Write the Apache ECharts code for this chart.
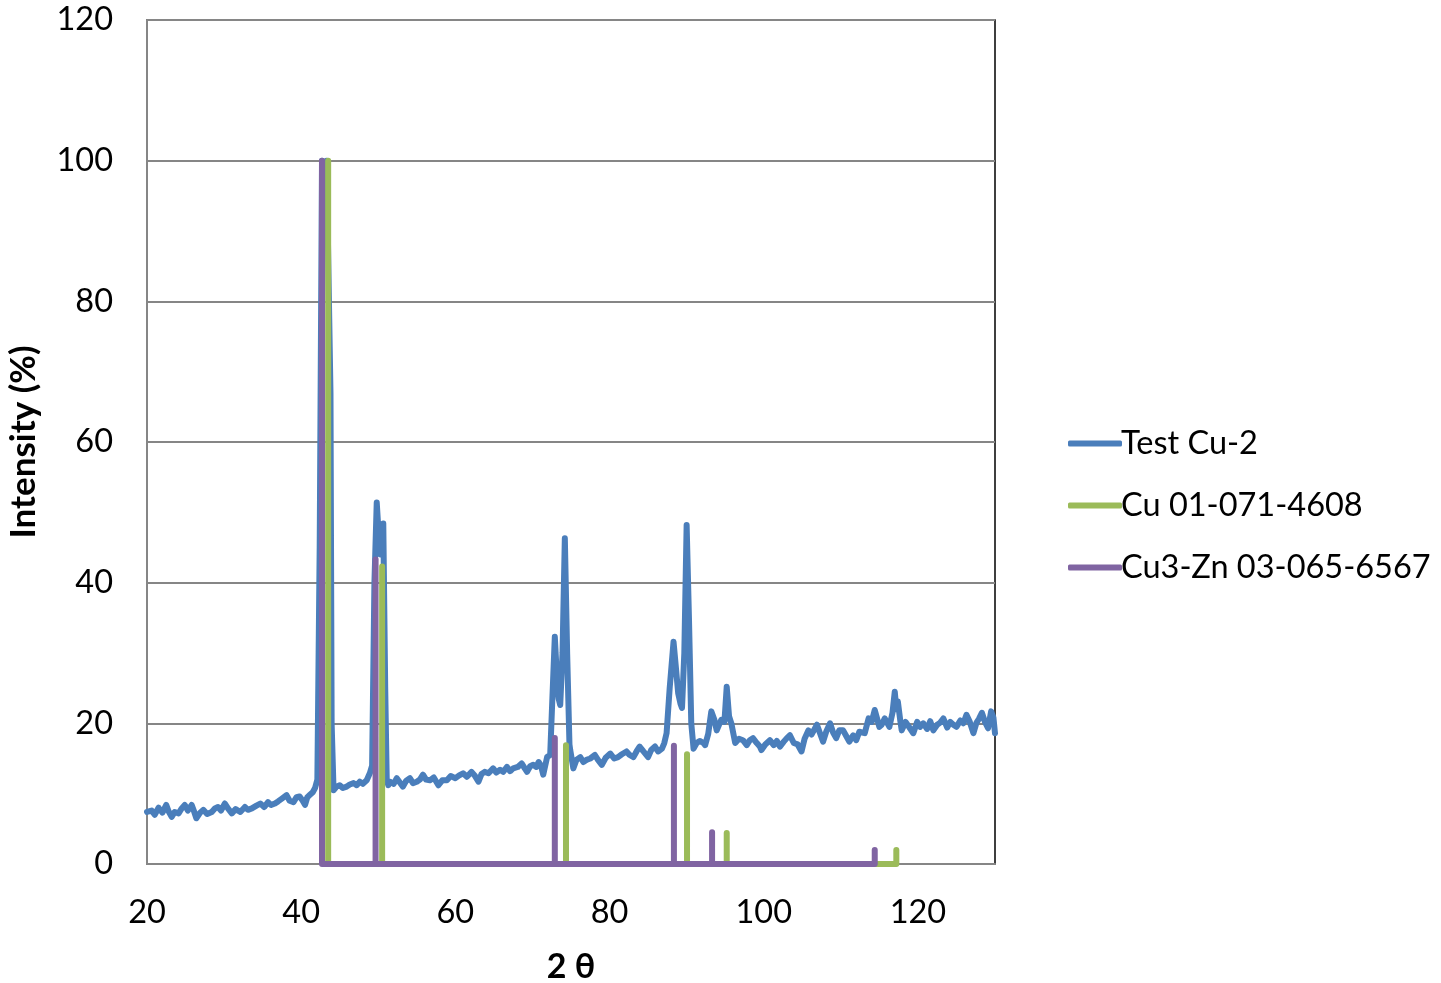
<!DOCTYPE html>
<html>
<head>
<meta charset="utf-8">
<script src="https://cdn.jsdelivr.net/npm/echarts@6/dist/echarts.min.js"></script>
<style>
html,body{margin:0;padding:0;background:#fff;}
#chart{width:1441px;height:983px;}
</style>
</head>
<body>
<div id="chart"></div>
<script>
// ---- data ----
const seriesNames = ['Test Cu-2', 'Cu 01-071-4608', 'Cu3-Zn 03-065-6567'];
const xTicks = [20, 40, 60, 80, 100, 120];
const yTicks = [0, 20, 40, 60, 80, 100, 120];

const testTheta = [20.0,20.6,21.0,21.5,22.0,22.5,22.8,23.2,23.6,24.1,24.5,24.9,25.3,25.8,26.1,26.4,26.9,27.3,27.8,28.4,28.8,29.2,29.6,30.1,30.5,31.0,31.5,32.1,32.7,33.1,33.6,34.2,34.7,35.2,35.7,36.1,36.6,37.0,37.5,38.1,38.5,39.0,39.4,39.8,40.2,40.5,40.8,41.1,41.5,41.8,42.1,42.4,42.7,43.0,43.3,43.6,43.8,43.95,44.2,44.6,45.0,45.4,45.9,46.3,46.8,47.2,47.6,48.0,48.5,48.9,49.2,49.5,49.8,50.1,50.3,50.65,50.9,51.1,51.3,51.5,52.0,52.4,52.8,53.2,53.6,54.1,54.5,55.0,55.4,55.8,56.2,56.7,57.2,57.8,58.3,58.9,59.4,60.0,60.5,61.0,61.5,62.1,62.5,63.0,63.4,63.8,64.3,64.9,65.3,65.8,66.2,66.7,67.1,67.5,68.1,68.6,69.0,69.3,69.7,70.1,70.5,70.8,71.1,71.4,71.9,72.3,72.6,72.9,73.2,73.4,73.6,73.9,74.2,74.5,74.8,74.9,75.3,75.7,76.2,76.6,77.0,77.5,78.1,78.5,79.0,79.5,80.1,80.6,81.1,81.6,82.2,82.6,83.1,83.5,83.9,84.4,85.0,85.4,85.9,86.3,86.8,87.1,87.4,87.8,88.3,88.6,88.9,89.2,89.4,89.7,90.0,90.3,90.6,90.9,91.3,91.7,92.2,92.4,92.8,93.2,93.6,93.9,94.2,94.5,94.9,95.2,95.5,95.8,96.3,96.8,97.3,97.8,98.2,98.6,99.1,99.5,99.7,100.2,100.8,101.3,101.7,102.1,102.6,103.0,103.4,103.9,104.4,104.9,105.3,105.8,106.2,106.9,107.3,107.7,108.1,108.6,109.0,109.4,109.8,110.3,110.7,111.1,111.6,112.0,112.4,113.1,113.6,114.0,114.4,115.0,115.3,115.7,116.3,116.7,117.0,117.2,117.4,117.7,117.9,118.4,118.9,119.4,119.9,120.3,120.7,121.2,121.6,122.0,122.5,122.9,123.3,123.8,124.2,124.6,125.0,125.5,125.9,126.3,126.7,127.2,127.6,127.9,128.3,128.7,129.1,129.5,129.8,130.0];
const testIntensity = [7.4,7.6,7.0,8.0,7.3,8.4,7.5,6.7,7.4,7.2,7.9,8.4,7.6,8.4,7.5,6.5,7.3,7.7,7.1,7.4,7.9,8.1,7.6,8.6,7.9,7.2,7.8,7.4,8.1,7.7,7.9,8.3,8.6,8.1,8.8,8.4,8.6,8.9,9.3,9.8,9.0,8.8,9.5,9.6,9.0,8.4,9.5,9.8,10.2,10.8,12,45,100,96,100,80,67,20,10.5,11.0,11.2,10.8,11.0,11.3,11.5,11.2,11.7,11.4,11.9,12.9,14,40,51.4,46,44,48.4,25,12,11.2,11.7,11.4,12.2,11.6,11.0,11.8,12.2,11.5,11.7,12.0,12.7,12.0,11.9,12.3,11.2,11.9,11.9,12.5,12.2,12.6,12.9,12.4,13.1,12.6,11.7,12.8,13.1,12.9,13.6,13.0,13.4,13.1,13.8,13.2,13.6,13.8,14.3,13.6,13.1,13.9,14.1,13.8,14.5,14.0,12.7,15.2,15.5,24,32.3,26,23.5,22.6,30,46.3,30,17,16.2,13.6,14.8,15.2,14.5,14.8,15.0,15.5,14.8,14.1,15.1,15.7,15.0,15.2,15.6,16.0,15.5,15.2,16.0,16.7,16.0,15.2,16.2,16.7,16.0,16.4,17.2,18.6,25,31.6,28,24.3,22.8,22.2,30,48.2,35,20,16.4,17.2,17.5,17.2,16.9,18.5,21.7,20.5,19.0,19.8,20.5,20.2,25.2,21,20,17.2,17.8,17.6,16.9,17.6,17.9,17.2,16.7,16.2,17.0,17.6,16.9,17.5,16.7,17.4,17.9,18.3,17.2,17.0,16.0,17.8,19.0,18.4,19.8,18.6,17.4,18.8,20.0,18.7,17.9,19.0,19.0,18.2,17.4,18.3,17.6,18.8,18.6,20.7,20.2,21.9,19.5,19.8,20.7,19.5,21.5,24.5,22,23.1,20.5,19.0,20.2,19.4,18.6,20.2,19.5,20.0,19.2,20.3,19.0,19.8,20.1,20.7,19.4,20.2,19.8,19.5,20.4,20.0,21.2,20.3,18.6,20.1,20.6,21.5,20.2,19.3,21.7,20.8,18.6];

const cuPeakTheta = [43.5, 50.5, 74.35, 90.05, 95.2, 117.2];
const cuPeakHeight = [100, 42.3, 16.9, 15.6, 4.4, 2.0];
const cu3znPeakTheta = [42.7, 49.65, 72.9, 88.35, 93.3, 114.4];
const cu3znPeakHeight = [100, 43.3, 17.9, 16.8, 4.5, 2.0];

// ---- build series data ----
const testData = testTheta.map((t, i) => [t, testIntensity[i]]);
function sticks(theta, height) {
  const out = [];
  theta.forEach((t, i) => { out.push([t, 0], [t, height[i]], [t, 0]); });
  return out;
}
const colors = ['#4A7EBB', '#9BBB59', '#8064A2'];
const FONT = 'Lato, "Open Sans", sans-serif';

const chart = echarts.init(document.getElementById('chart'));
chart.setOption({
  animation: false,
  backgroundColor: '#fff',
  grid: { left: 147, top: 20, width: 848, height: 844, outerBoundsMode: 'none', containLabel: false,
          show: true, borderColor: '#000', borderWidth: 1.5, backgroundColor: 'transparent' },
  legend: {
    orient: 'vertical', left: 1063, top: 422, itemGap: 29,
    icon: 'roundRect', itemWidth: 54, itemHeight: 6,
    textStyle: { fontFamily: FONT, fontSize: 32.5, color: '#000', padding: [0, 0, 0, -6] },
    data: seriesNames
  },
  xAxis: {
    type: 'value', min: 20, max: 130, interval: 20,
    name: '2 θ', nameLocation: 'middle', nameGap: 86,
    nameTextStyle: { fontFamily: FONT, fontSize: 34, fontWeight: 'bold', color: '#000' },
    axisLine: { show: true, lineStyle: { color: '#868686', width: 2 } },
    axisTick: { show: false },
    splitLine: { show: false },
    axisLabel: { fontFamily: FONT, fontSize: 32.5, color: '#000', margin: 32, showMaxLabel: false, showMinLabel: true }
  },
  yAxis: {
    type: 'value', min: 0, max: 120, interval: 20,
    name: 'Intensity (%)', nameLocation: 'middle', nameGap: 106, nameRotate: 90,
    nameTextStyle: { fontFamily: FONT, fontSize: 35, fontWeight: 'bold', color: '#000' },
    axisLine: { show: true, lineStyle: { color: '#868686', width: 2 } },
    axisTick: { show: false },
    splitLine: { show: true, lineStyle: { color: '#868686', width: 2 } },
    axisLabel: { fontFamily: FONT, fontSize: 32.5, color: '#000', margin: 34 }
  },
  series: [
    { name: seriesNames[0], type: 'line', data: testData, showSymbol: false, symbol: 'none',
      lineStyle: { color: colors[0], width: 6, cap: 'round', join: 'round' }, itemStyle: { color: colors[0] }, z: 2 },
    { name: seriesNames[1], type: 'line', data: sticks(cuPeakTheta, cuPeakHeight), showSymbol: false, symbol: 'none',
      lineStyle: { color: colors[1], width: 6, cap: 'round', join: 'round' }, itemStyle: { color: colors[1] }, z: 3 },
    { name: seriesNames[2], type: 'line', data: sticks(cu3znPeakTheta, cu3znPeakHeight), showSymbol: false, symbol: 'none',
      lineStyle: { color: colors[2], width: 6, cap: 'round', join: 'round' }, itemStyle: { color: colors[2] }, z: 4 }
  ]
});
</script>
</body>
</html>
